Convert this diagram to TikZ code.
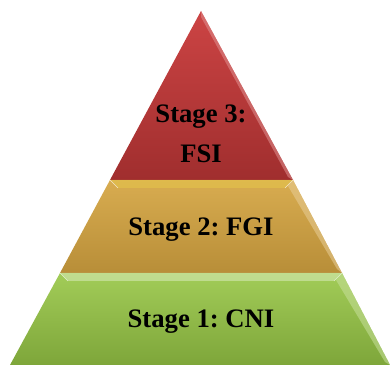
\documentclass[tikz,border=0pt]{standalone}
\usepackage{fontspec}
\setmainfont{Liberation Serif}
\usetikzlibrary{positioning}
\frenchspacing
\definecolor{redtop}{HTML}{CC4444}
\definecolor{redbot}{HTML}{A02E2E}
\definecolor{goldtop}{HTML}{D8AC50}
\definecolor{goldbot}{HTML}{B88E38}
\definecolor{greentop}{HTML}{A2CC58}
\definecolor{greenbot}{HTML}{7EA63A}

\begin{document}
\begin{tikzpicture}[
  x=0.75pt, y=-0.75pt,
  lbl/.style={font=\fontsize{20}{30}\selectfont\bfseries, align=center, text=black},
  bevel/.style={draw=none, opacity=0.55},
]
  \useasboundingbox (0,0) rectangle (390,367);

  % tier corners
  \coordinate (apex) at (201,11);
  \coordinate (l1) at (110,180);  \coordinate (r1) at (293,180);
  \coordinate (l2) at (60,273);   \coordinate (r2) at (342,273);
  \coordinate (l3) at (10,365);   \coordinate (r3) at (390,365);

  % tiers
  \shade[top color=greentop, bottom color=greenbot] (l2) -- (r2) -- (r3) -- (l3) -- cycle;
  \shade[top color=goldtop, bottom color=goldbot] (l1) -- (r1) -- (r2) -- (l2) -- cycle;
  \shade[top color=redtop, bottom color=redbot] (apex) -- (r1) -- (l1) -- cycle;

  % bevels
  \fill[bevel, white!60!greentop] (l2) -- (r2) -- (334,281) -- (68,281) -- cycle;
  \fill[bevel, yellow!30!goldtop] (l1) -- (r1) -- (285,188) -- (118,188) -- cycle;
  \fill[bevel, white!40!redtop] (apex) -- (r1) -- (288,177) -- (201,17) -- cycle;
  \fill[bevel, white!40!goldtop] (r1) -- (r2) -- (337,269) -- (288,186) -- cycle;
  \fill[bevel, white!40!greentop] (r2) -- (r3) -- (385,362) -- (336,280) -- cycle;
  \draw[white!70!greentop, line width=0.4pt] (l2) -- (68,281) (r2) -- (334,281);
  \draw[white!70!goldtop, line width=0.4pt] (l1) -- (118,188) (r1) -- (285,188);

  % labels
  \node[lbl] (fsi) at (201,134) {Stage 3:\\FSI};
  \node[lbl] (fgi) at (201,230) {Stage 2: FGI};
  \node[lbl] (cni) at (201,322) {Stage 1: CNI};
\end{tikzpicture}
\end{document}
